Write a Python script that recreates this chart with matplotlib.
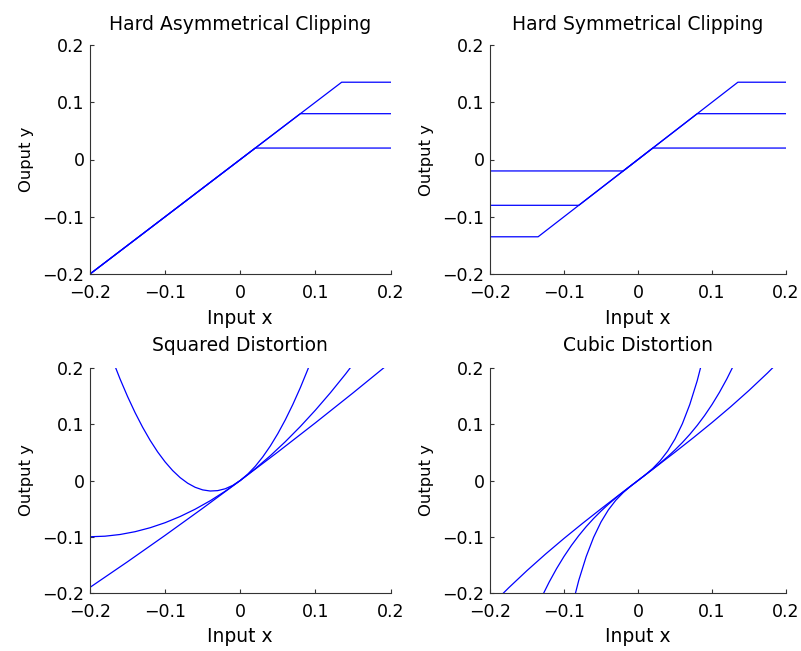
import matplotlib
matplotlib.use("Agg")
import matplotlib.pyplot as plt

plt.rcParams['font.family'] = ['DejaVu Sans']

# ---- data ----
clip_levels = [0.02, 0.08, 0.135]
x_lim = [-0.2, 0.2]

sq_lin_x = [-0.20, -0.15, -0.10, -0.05, 0.0, 0.05, 0.10, 0.15, 0.20]
sq_lin_y = [-0.19, -0.1444, -0.0975, -0.0494, 0.0, 0.0506, 0.1025, 0.1556, 0.21]

sq_mid_x = [-0.20, -0.18, -0.16, -0.14, -0.12, -0.10, -0.08, -0.06, -0.04, -0.02,
            0.0, 0.02, 0.04, 0.06, 0.08, 0.10, 0.12, 0.14, 0.16]
sq_mid_y = [-0.100, -0.099, -0.096, -0.091, -0.084, -0.075, -0.064, -0.051, -0.036, -0.019,
            0.0, 0.021, 0.044, 0.069, 0.096, 0.125, 0.156, 0.189, 0.224]

sq_par_x = [-0.17, -0.16, -0.15, -0.14, -0.13, -0.12, -0.11, -0.10, -0.09, -0.08,
            -0.07, -0.06, -0.05, -0.04, -0.03, -0.02, -0.01, 0.0, 0.01, 0.02,
            0.03, 0.04, 0.05, 0.06, 0.07, 0.08, 0.09, 0.10]
sq_par_y = [0.2144, 0.1805, 0.1493, 0.1207, 0.0948, 0.0715, 0.0509, 0.033, 0.0177, 0.0051,
            -0.0048, -0.0121, -0.0167, -0.0187, -0.0180, -0.0147, -0.0087, 0.0, 0.0113, 0.0253,
            0.0420, 0.0613, 0.0833, 0.1079, 0.1352, 0.1651, 0.1977, 0.233]

cu_lin_x = [-0.20, -0.175, -0.15, -0.125, -0.10, -0.075, -0.05, -0.025, 0.0,
            0.025, 0.05, 0.075, 0.10, 0.125, 0.15, 0.175, 0.20]
cu_lin_y = [-0.224, -0.19108, -0.16013, -0.13086, -0.103, -0.07627, -0.05038, -0.02505, 0.0,
            0.02505, 0.05038, 0.07627, 0.103, 0.13086, 0.16013, 0.19108, 0.224]

cu_mid_x = [-0.13, -0.12, -0.11, -0.10, -0.09, -0.08, -0.07, -0.06, -0.05, -0.04, -0.03, -0.02, -0.01,
            0.0, 0.01, 0.02, 0.03, 0.04, 0.05, 0.06, 0.07, 0.08, 0.09, 0.10, 0.11, 0.12, 0.13]
cu_mid_y = [-0.2069, -0.18048, -0.15659, -0.135, -0.11552, -0.09792, -0.082, -0.06756, -0.05438,
            -0.04224, -0.03095, -0.02028, -0.01004, 0.0, 0.01004, 0.02028, 0.03095, 0.04224,
            0.05438, 0.06756, 0.082, 0.09792, 0.11552, 0.135, 0.15659, 0.18048, 0.2069]

cu_steep_x = [-0.09, -0.08, -0.07, -0.06, -0.05, -0.04, -0.03, -0.02, -0.01,
              0.0, 0.01, 0.02, 0.03, 0.04, 0.05, 0.06, 0.07, 0.08, 0.09]
cu_steep_y = [-0.22851, -0.17728, -0.13517, -0.10104, -0.07375, -0.05216, -0.03513, -0.02152, -0.01019,
              0.0, 0.01019, 0.02152, 0.03513, 0.05216, 0.07375, 0.10104, 0.13517, 0.17728, 0.22851]

ticks = [-0.2, -0.1, 0, 0.1, 0.2]
tick_labels = ['\u22120.2', '\u22120.1', '0', '0.1', '0.2']

titles = ['Hard Asymmetrical Clipping', 'Hard Symmetrical Clipping',
          'Squared Distortion', 'Cubic Distortion']
ylabels = ['Ouput y', 'Output y', 'Output y', 'Output y']

# ---- figure ----
W, H = 801, 651
fig = plt.figure(figsize=(W / 100, H / 100), dpi=100)

def rect(l, r, t, b):
    return [l / W, 1 - b / H, (r - l) / W, (b - t) / H]

axes = [fig.add_axes(rect(90, 390.5, 45, 274)),
        fig.add_axes(rect(490, 786, 45, 274)),
        fig.add_axes(rect(90, 390.5, 368, 593)),
        fig.add_axes(rect(490, 786, 368, 593))]

col = (0, 0, 1)
lw = 0.9

ax = axes[0]
for c in clip_levels:
    ax.plot([x_lim[0], c, x_lim[1]], [x_lim[0], c, c], color=col, lw=lw)

ax = axes[1]
for c in clip_levels:
    ax.plot([x_lim[0], -c, c, x_lim[1]], [-c, -c, c, c], color=col, lw=lw)

ax = axes[2]
ax.plot(sq_lin_x, sq_lin_y, color=col, lw=lw)
ax.plot(sq_mid_x, sq_mid_y, color=col, lw=lw)
ax.plot(sq_par_x, sq_par_y, color=col, lw=lw)

ax = axes[3]
ax.plot(cu_lin_x, cu_lin_y, color=col, lw=lw)
ax.plot(cu_mid_x, cu_mid_y, color=col, lw=lw)
ax.plot(cu_steep_x, cu_steep_y, color=col, lw=lw)

fs_tick = 12.5
fs_title = 13.5
fs_ylab = 11.8
for i, (ax, t, yl) in enumerate(zip(axes, titles, ylabels)):
    ax.set_xlim(x_lim)
    ax.set_ylim(x_lim)
    ax.set_xticks(ticks)
    ax.set_yticks(ticks)
    ax.set_xticklabels(tick_labels, fontsize=fs_tick)
    ax.set_yticklabels(tick_labels, fontsize=fs_tick)
    for s in ['top', 'right']:
        ax.spines[s].set_visible(False)
    for s in ['left', 'bottom']:
        ax.spines[s].set_linewidth(0.8)
        ax.spines[s].set_color('#333333')
    ax.tick_params(direction='in', length=3, width=0.8, color='#333333')
    ax.tick_params(axis='x', pad=7)
    ax.tick_params(axis='y', pad=4)
    ax.set_title(t, fontsize=fs_title, pad=11 if i < 2 else 12)
    ax.set_xlabel('Input x', fontsize=fs_title, labelpad=5.5 if i < 2 else 4.5)
    ax.set_ylabel(yl, fontsize=fs_ylab, labelpad=6)

fig.savefig('out.png', dpi=100)
